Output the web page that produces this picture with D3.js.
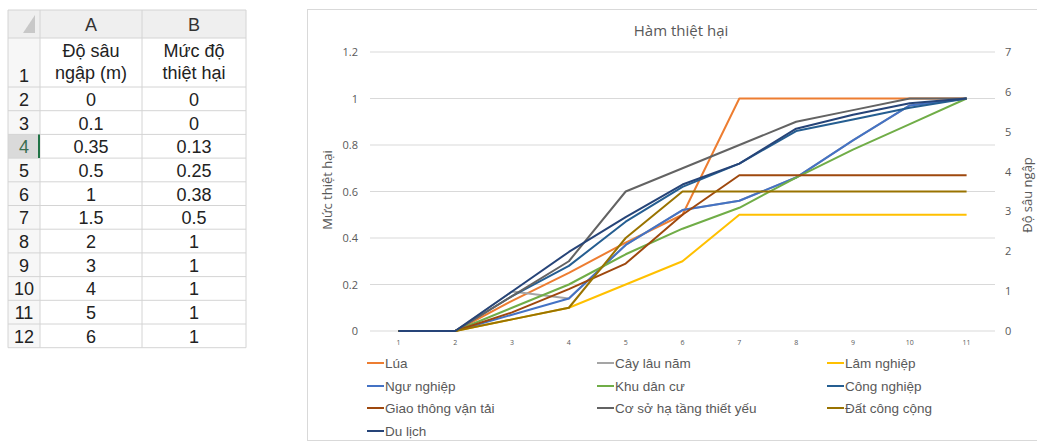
<!DOCTYPE html>
<html><head><meta charset="utf-8">
<script src="https://cdn.jsdelivr.net/npm/d3@7"></script>
<style>
html,body{margin:0;padding:0;background:#fff;}
svg{display:block;}
</style></head>
<body>
<svg id="c" width="1037" height="446"></svg>
<script>
// ---------- Spreadsheet data ----------
const columnLetters = ["A", "B"];
const headerA = ["Độ sâu", "ngập (m)"];
const headerB = ["Mức độ", "thiệt hại"];
const depthValues = ["0", "0.1", "0.35", "0.5", "1", "1.5", "2", "3", "4", "5", "6"];
const damageValues = ["0", "0", "0.13", "0.25", "0.38", "0.5", "1", "1", "1", "1", "1"];

// ---------- Chart data ----------
const chartTitle = "Hàm thiệt hại";
const leftAxisTitle = "Mức thiệt hại";
const rightAxisTitle = "Độ sâu ngập";
const categories = [1, 2, 3, 4, 5, 6, 7, 8, 9, 10, 11];
const leftTicks = [0, 0.2, 0.4, 0.6, 0.8, 1, 1.2];
const rightTicks = [0, 1, 2, 3, 4, 5, 6, 7];

const lua        = [0, 0, 0.13, 0.25, 0.38, 0.5, 1, 1, 1, 1, 1];
const cayLauNam  = [0, 0, 0.17, 0.14, 0.37, 0.52, 0.56, 0.66, 0.82, 0.97, 1];
const lamNghiep  = [0, 0, 0.05, 0.1, 0.2, 0.3, 0.5, 0.5, 0.5, 0.5, 0.5];
const nguNghiep  = [0, 0, 0.07, 0.14, 0.37, 0.52, 0.56, 0.66, 0.82, 0.97, 1];
const khuDanCu   = [0, 0, 0.1, 0.2, 0.33, 0.44, 0.53, 0.66, 0.78, 0.89, 1];
const congNghiep = [0, 0, 0.15, 0.28, 0.47, 0.62, 0.72, 0.86, 0.91, 0.96, 1];
const giaoThong  = [0, 0, 0.08, 0.18, 0.29, 0.5, 0.67, 0.67, 0.67, 0.67, 0.67];
const coSoHaTang = [0, 0, 0.15, 0.3, 0.6, 0.7, 0.8, 0.9, 0.95, 1, 1];
const datCongCong= [0, 0, 0.05, 0.1, 0.4, 0.6, 0.6, 0.6, 0.6, 0.6, 0.6];
const duLich     = [0, 0, 0.17, 0.34, 0.49, 0.63, 0.72, 0.87, 0.93, 0.98, 1];

const seriesNames = ["Lúa", "Cây lâu năm", "Lâm nghiệp", "Ngư nghiệp", "Khu dân cư",
  "Công nghiệp", "Giao thông vận tải", "Cơ sở hạ tầng thiết yếu", "Đất công cộng", "Du lịch"];
const seriesValues = [lua, cayLauNam, lamNghiep, nguNghiep, khuDanCu,
  congNghiep, giaoThong, coSoHaTang, datCongCong, duLich];
const seriesColors = ["#ED7D31", "#A5A5A5", "#FFC000", "#4472C4", "#70AD47",
  "#255E91", "#9E480E", "#636363", "#997300", "#264478"];

const svg = d3.select("#c");

// ================= Spreadsheet =================
(function drawTable(){
  const g = svg.append("g");
  const colX = [8, 40, 142, 246];          // row-header, A, B edges
  const headerTop = 10, headerBottom = 38, row1Bottom = 87, rowH = 23.7;
  const nRows = depthValues.length;
  const tableBottom = row1Bottom + nRows * rowH;
  const font = "'Liberation Sans', Arial, sans-serif";
  const gridCol = "#D4D4D4";

  // backgrounds
  g.append("rect").attr("x", colX[0]).attr("y", headerTop).attr("width", colX[3]-colX[0]).attr("height", headerBottom-headerTop).attr("fill", "#EFEFEF");
  g.append("rect").attr("x", colX[0]).attr("y", headerBottom).attr("width", colX[1]-colX[0]).attr("height", tableBottom-headerBottom).attr("fill", "#F7F7F7");
  // highlighted row 4 header
  const rowTop = i => row1Bottom + i * rowH;
  g.append("rect").attr("x", colX[0]).attr("y", rowTop(2)).attr("width", colX[1]-colX[0]).attr("height", rowH).attr("fill", "#DADADA");
  // corner triangle
  g.append("path").attr("d", `M${colX[1]-5},${headerTop+5} L${colX[1]-5},${headerBottom-5} L${colX[1]-17},${headerBottom-5} Z`).attr("fill", "#C8C8C8");

  // grid lines
  const hLines = [headerTop, headerBottom, row1Bottom].concat(d3.range(1, nRows+1).map(i => rowTop(i)));
  g.selectAll("line.h").data(hLines).join("line")
    .attr("x1", colX[0]).attr("x2", colX[3]).attr("y1", d => d).attr("y2", d => d)
    .attr("stroke", gridCol).attr("stroke-width", 1);
  g.selectAll("line.v").data(colX).join("line")
    .attr("x1", d => d).attr("x2", d => d).attr("y1", headerTop).attr("y2", tableBottom)
    .attr("stroke", gridCol).attr("stroke-width", 1);
  // green active marker
  g.append("line").attr("x1", colX[1]-1).attr("x2", colX[1]-1).attr("y1", rowTop(2)).attr("y2", rowTop(3))
    .attr("stroke", "#217346").attr("stroke-width", 2);

  const txt = (x, y, s, opts={}) => g.append("text").attr("x", x).attr("y", y)
    .attr("text-anchor", opts.anchor || "middle").attr("dominant-baseline", "central")
    .attr("font-family", font).attr("font-size", opts.size || 18).attr("fill", opts.fill || "#222")
    .text(s);

  // column letters
  columnLetters.forEach((c, i) => txt((colX[i+1]+colX[i+2])/2, (headerTop+headerBottom)/2 + 1, c, {fill:"#333"}));
  // header row 1
  txt((colX[0]+colX[1])/2, 76, "1");
  txt((colX[1]+colX[2])/2, 51, headerA[0]);
  txt((colX[1]+colX[2])/2, 73, headerA[1]);
  txt((colX[2]+colX[3])/2, 51, headerB[0]);
  txt((colX[2]+colX[3])/2, 73, headerB[1]);
  // data rows
  depthValues.forEach((v, i) => {
    const cy = rowTop(i) + rowH/2 + 1;
    txt((colX[0]+colX[1])/2, cy, String(i+2), {fill: i === 2 ? "#3a6e4f" : "#222"});
    txt((colX[1]+colX[2])/2, cy, v);
    txt((colX[2]+colX[3])/2, cy, damageValues[i]);
  });
})();

// ================= Chart =================
(function drawChart(){
  const g = svg.append("g");
  const font = "'Open Sans', 'Noto Sans', sans-serif";
  const txtCol = "#595959";
  // chart border
  g.append("rect").attr("x", 307.5).attr("y", 9.5).attr("width", 1040-307).attr("height", 440-9)
    .attr("fill", "#fff").attr("stroke", "#D9D9D9");

  const plotL = 370, plotR = 995, plotT = 52, plotB = 331;
  const x = d3.scaleBand().domain(categories).range([plotL, plotR]).paddingInner(0).paddingOuter(0);
  const xc = d => x(d) + x.bandwidth()/2;
  const yL = d3.scaleLinear().domain([0, 1.2]).range([plotB, plotT]);
  const yR = d3.scaleLinear().domain([0, 7]).range([plotB, plotT]);

  // gridlines
  g.selectAll("line.grid").data(leftTicks).join("line")
    .attr("x1", plotL).attr("x2", plotR).attr("y1", d => yL(d)).attr("y2", d => yL(d))
    .attr("stroke", "#D9D9D9").attr("stroke-width", 1);

  // left axis
  const la = g.append("g").attr("transform", `translate(${plotL},0)`)
    .call(d3.axisLeft(yL).tickValues(leftTicks).tickSize(0).tickPadding(12).tickFormat(d3.format("~g")));
  la.select(".domain").remove();
  la.selectAll("text").attr("font-family", font).attr("font-size", 11).attr("fill", txtCol);

  // right axis
  const ra = g.append("g").attr("transform", `translate(${plotR},0)`)
    .call(d3.axisRight(yR).tickValues(rightTicks).tickSize(0).tickPadding(10).tickFormat(d3.format("d")));
  ra.select(".domain").remove();
  ra.selectAll("text").attr("font-family", font).attr("font-size", 11).attr("fill", txtCol);

  // bottom axis
  const ba = g.append("g").attr("transform", `translate(0,${plotB})`)
    .call(d3.axisBottom(x).tickSize(0).tickPadding(9));
  ba.select(".domain").remove();
  ba.selectAll("text").attr("font-family", font).attr("font-size", 7).attr("fill", txtCol);

  // title
  g.append("text").attr("x", 681).attr("y", 30).attr("text-anchor", "middle").attr("dominant-baseline", "central")
    .attr("font-family", font).attr("font-size", 15).attr("fill", txtCol).text(chartTitle);
  // axis titles
  g.append("text").attr("transform", "translate(327,190) rotate(-90)").attr("text-anchor", "middle")
    .attr("dominant-baseline", "central").attr("font-family", font).attr("font-size", 13).attr("fill", txtCol).text(leftAxisTitle);
  g.append("text").attr("transform", "translate(1027,195) rotate(-90)").attr("text-anchor", "middle")
    .attr("dominant-baseline", "central").attr("font-family", font).attr("font-size", 13).attr("fill", txtCol).text(rightAxisTitle);

  // lines
  const line = d3.line().x((d, i) => xc(categories[i])).y(d => yL(d));
  g.selectAll("path.series").data(seriesValues).join("path")
    .attr("class", "series").attr("d", d => line(d)).attr("fill", "none")
    .attr("stroke", (d, i) => seriesColors[i]).attr("stroke-width", 2).attr("stroke-linejoin", "round");

  // legend
  const legX = [367, 597, 827], legY = [363, 386, 408, 431];
  const lg = g.selectAll("g.leg").data(seriesNames).join("g")
    .attr("transform", (d, i) => `translate(${legX[i % 3]},${legY[Math.floor(i / 3)]})`);
  lg.append("line").attr("x1", 0).attr("x2", 17).attr("stroke", (d, i) => seriesColors[i]).attr("stroke-width", 2);
  lg.append("text").attr("x", 18).attr("dominant-baseline", "central")
    .attr("font-family", "'Liberation Sans', Arial, sans-serif").attr("font-size", 13.5).attr("fill", txtCol).text(d => d);
})();
</script>
</body></html>
